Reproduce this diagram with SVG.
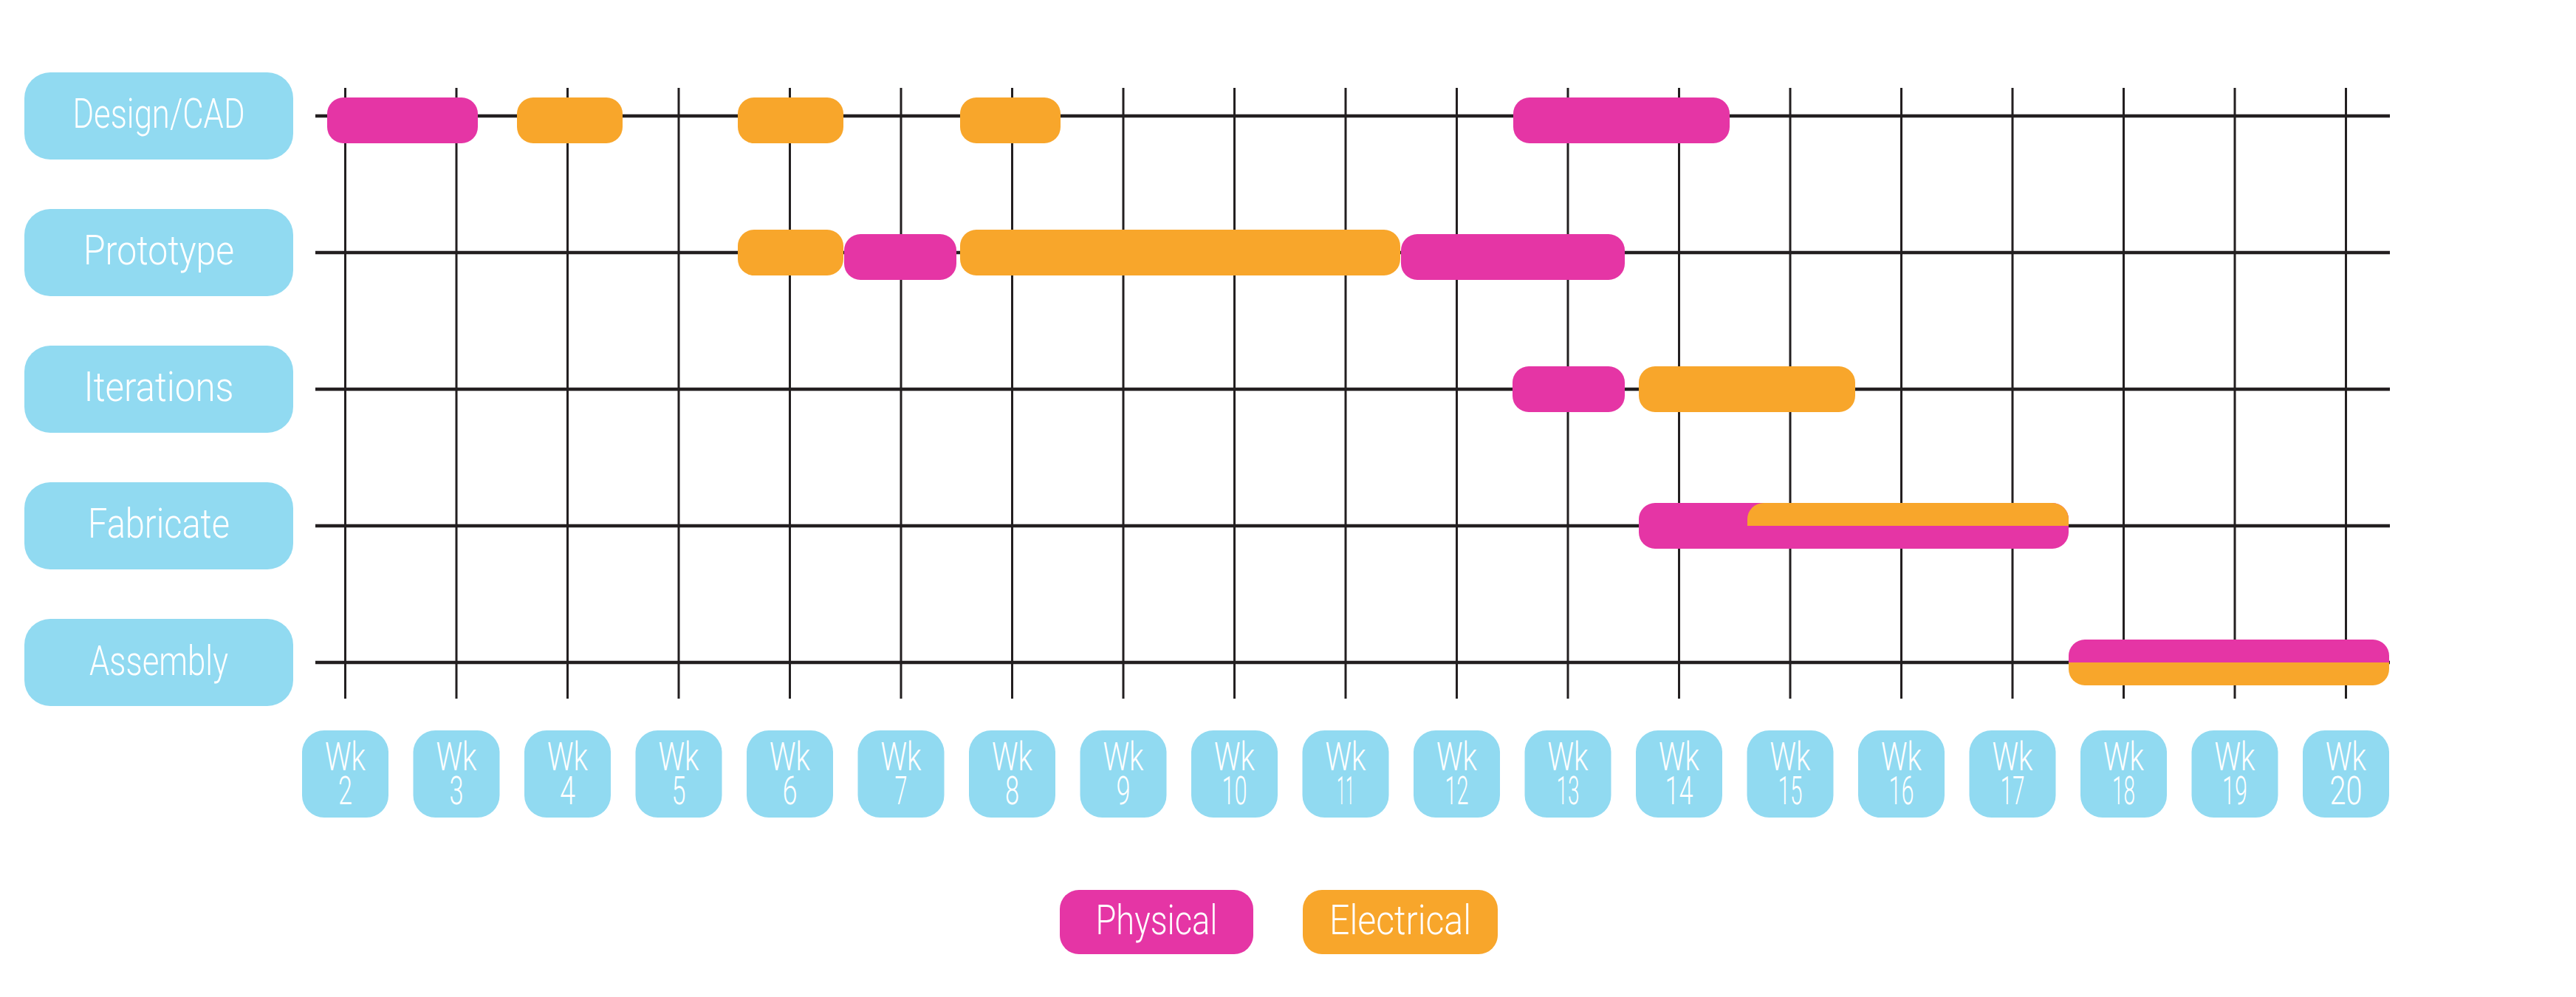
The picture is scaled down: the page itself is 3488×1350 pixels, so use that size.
<svg xmlns="http://www.w3.org/2000/svg" width="3488" height="1350" viewBox="0 0 3488 1350">
<style>
.lbl{fill:#91DAF1}
.p{fill:#E535A5}
.e{fill:#F8A62B}
.t{fill:#FFFFFF;font-family:Roboto,"Liberation Sans",sans-serif;font-weight:300;font-size:55px;text-anchor:middle}
.wt{fill:#FFFFFF;font-family:Roboto,"Liberation Sans",sans-serif;font-weight:300;font-size:54px;text-anchor:middle}
.h{stroke:#231F20;stroke-width:4.5}
.v{stroke:#231F20;stroke-width:3}
</style>
<rect x="0" y="0" width="3488" height="1350" fill="#FFFFFF"/>
<g id="grid">
<line class="v" x1="467.5" y1="119" x2="467.5" y2="946"/>
<line class="v" x1="618" y1="119" x2="618" y2="946"/>
<line class="v" x1="768.5" y1="119" x2="768.5" y2="946"/>
<line class="v" x1="919" y1="119" x2="919" y2="946"/>
<line class="v" x1="1069.5" y1="119" x2="1069.5" y2="946"/>
<line class="v" x1="1220" y1="119" x2="1220" y2="946"/>
<line class="v" x1="1370.5" y1="119" x2="1370.5" y2="946"/>
<line class="v" x1="1521" y1="119" x2="1521" y2="946"/>
<line class="v" x1="1671.5" y1="119" x2="1671.5" y2="946"/>
<line class="v" x1="1822" y1="119" x2="1822" y2="946"/>
<line class="v" x1="1972.5" y1="119" x2="1972.5" y2="946"/>
<line class="v" x1="2123" y1="119" x2="2123" y2="946"/>
<line class="v" x1="2273.5" y1="119" x2="2273.5" y2="946"/>
<line class="v" x1="2424" y1="119" x2="2424" y2="946"/>
<line class="v" x1="2574.5" y1="119" x2="2574.5" y2="946"/>
<line class="v" x1="2725" y1="119" x2="2725" y2="946"/>
<line class="v" x1="2875.5" y1="119" x2="2875.5" y2="946"/>
<line class="v" x1="3026" y1="119" x2="3026" y2="946"/>
<line class="v" x1="3176.5" y1="119" x2="3176.5" y2="946"/>
<line class="h" x1="427" y1="157" x2="3236" y2="157"/>
<line class="h" x1="427" y1="342" x2="3236" y2="342"/>
<line class="h" x1="427" y1="527" x2="3236" y2="527"/>
<line class="h" x1="427" y1="712" x2="3236" y2="712"/>
<line class="h" x1="427" y1="897" x2="3236" y2="897"/>
</g>
<g id="rows">
<g id="row-design">
<rect class="lbl" x="33" y="98" width="364" height="118" rx="35"/>
<text class="t" x="215" y="173" textLength="233" lengthAdjust="spacingAndGlyphs">Design/CAD</text>
</g>
<g id="row-prototype">
<rect class="lbl" x="33" y="283" width="364" height="118" rx="35"/>
<text class="t" x="215" y="358" textLength="204" lengthAdjust="spacingAndGlyphs">Prototype</text>
</g>
<g id="row-iterations">
<rect class="lbl" x="33" y="468" width="364" height="118" rx="35"/>
<text class="t" x="215" y="543" textLength="203" lengthAdjust="spacingAndGlyphs">Iterations</text>
</g>
<g id="row-fabricate">
<rect class="lbl" x="33" y="653" width="364" height="118" rx="35"/>
<text class="t" x="215" y="728" textLength="192" lengthAdjust="spacingAndGlyphs">Fabricate</text>
</g>
<g id="row-assembly">
<rect class="lbl" x="33" y="838" width="364" height="118" rx="35"/>
<text class="t" x="215" y="914" textLength="188" lengthAdjust="spacingAndGlyphs">Assembly</text>
</g>
</g>
<g id="bars">
<rect class="p" x="443" y="132" width="204" height="62" rx="22"/>
<rect class="e" x="700" y="132" width="143" height="62" rx="22"/>
<rect class="e" x="999" y="132" width="143" height="62" rx="22"/>
<rect class="e" x="1300" y="132" width="136" height="62" rx="22"/>
<rect class="p" x="2049" y="132" width="293" height="62" rx="22"/>
<rect class="e" x="999" y="311" width="143" height="62" rx="22"/>
<rect class="p" x="1143" y="317" width="152" height="62" rx="22"/>
<rect class="e" x="1300" y="311" width="596" height="62" rx="22"/>
<rect class="p" x="1897" y="317" width="303" height="62" rx="22"/>
<rect class="p" x="2048" y="496" width="152" height="62" rx="22"/>
<rect class="e" x="2219" y="496" width="293" height="62" rx="22"/>
<rect class="p" x="2219" y="681" width="582" height="62" rx="22"/>
<path class="e" d="M2366 712 L2366 703 A22 22 0 0 1 2388 681 L2779 681 A22 22 0 0 1 2801 703 L2801 712 Z"/>
<path class="p" d="M2801 897 L2801 888 A22 22 0 0 1 2823 866 L3213 866 A22 22 0 0 1 3235 888 L3235 897 Z"/>
<path class="e" d="M2801 897 L2801 906 A22 22 0 0 0 2823 928 L3213 928 A22 22 0 0 0 3235 906 L3235 897 Z"/>
</g>
<g id="weeks">
<g id="wk2"><rect class="lbl" x="409" y="989" width="117" height="118" rx="30"/><text class="wt"><tspan x="467.5" y="1043" textLength="55" lengthAdjust="spacingAndGlyphs">Wk</tspan><tspan x="467.5" y="1089" textLength="19" lengthAdjust="spacingAndGlyphs">2</tspan></text></g>
<g id="wk3"><rect class="lbl" x="559.5" y="989" width="117" height="118" rx="30"/><text class="wt"><tspan x="618" y="1043" textLength="55" lengthAdjust="spacingAndGlyphs">Wk</tspan><tspan x="618" y="1089" textLength="19" lengthAdjust="spacingAndGlyphs">3</tspan></text></g>
<g id="wk4"><rect class="lbl" x="710" y="989" width="117" height="118" rx="30"/><text class="wt"><tspan x="768.5" y="1043" textLength="55" lengthAdjust="spacingAndGlyphs">Wk</tspan><tspan x="768.5" y="1089" textLength="21" lengthAdjust="spacingAndGlyphs">4</tspan></text></g>
<g id="wk5"><rect class="lbl" x="860.5" y="989" width="117" height="118" rx="30"/><text class="wt"><tspan x="919" y="1043" textLength="55" lengthAdjust="spacingAndGlyphs">Wk</tspan><tspan x="919" y="1089" textLength="19" lengthAdjust="spacingAndGlyphs">5</tspan></text></g>
<g id="wk6"><rect class="lbl" x="1011" y="989" width="117" height="118" rx="30"/><text class="wt"><tspan x="1069.5" y="1043" textLength="55" lengthAdjust="spacingAndGlyphs">Wk</tspan><tspan x="1069.5" y="1089" textLength="20" lengthAdjust="spacingAndGlyphs">6</tspan></text></g>
<g id="wk7"><rect class="lbl" x="1161.5" y="989" width="117" height="118" rx="30"/><text class="wt"><tspan x="1220" y="1043" textLength="55" lengthAdjust="spacingAndGlyphs">Wk</tspan><tspan x="1220" y="1089" textLength="17" lengthAdjust="spacingAndGlyphs">7</tspan></text></g>
<g id="wk8"><rect class="lbl" x="1312" y="989" width="117" height="118" rx="30"/><text class="wt"><tspan x="1370.5" y="1043" textLength="55" lengthAdjust="spacingAndGlyphs">Wk</tspan><tspan x="1370.5" y="1089" textLength="19" lengthAdjust="spacingAndGlyphs">8</tspan></text></g>
<g id="wk9"><rect class="lbl" x="1462.5" y="989" width="117" height="118" rx="30"/><text class="wt"><tspan x="1521" y="1043" textLength="55" lengthAdjust="spacingAndGlyphs">Wk</tspan><tspan x="1521" y="1089" textLength="19" lengthAdjust="spacingAndGlyphs">9</tspan></text></g>
<g id="wk10"><rect class="lbl" x="1613" y="989" width="117" height="118" rx="30"/><text class="wt"><tspan x="1671.5" y="1043" textLength="55" lengthAdjust="spacingAndGlyphs">Wk</tspan><tspan x="1671.5" y="1089" textLength="34" lengthAdjust="spacingAndGlyphs">10</tspan></text></g>
<g id="wk11"><rect class="lbl" x="1763.5" y="989" width="117" height="118" rx="30"/><text class="wt"><tspan x="1822" y="1043" textLength="55" lengthAdjust="spacingAndGlyphs">Wk</tspan><tspan x="1822" y="1089" textLength="24" lengthAdjust="spacingAndGlyphs">11</tspan></text></g>
<g id="wk12"><rect class="lbl" x="1914" y="989" width="117" height="118" rx="30"/><text class="wt"><tspan x="1972.5" y="1043" textLength="55" lengthAdjust="spacingAndGlyphs">Wk</tspan><tspan x="1972.5" y="1089" textLength="32" lengthAdjust="spacingAndGlyphs">12</tspan></text></g>
<g id="wk13"><rect class="lbl" x="2064.5" y="989" width="117" height="118" rx="30"/><text class="wt"><tspan x="2123" y="1043" textLength="55" lengthAdjust="spacingAndGlyphs">Wk</tspan><tspan x="2123" y="1089" textLength="31" lengthAdjust="spacingAndGlyphs">13</tspan></text></g>
<g id="wk14"><rect class="lbl" x="2215" y="989" width="117" height="118" rx="30"/><text class="wt"><tspan x="2273.5" y="1043" textLength="55" lengthAdjust="spacingAndGlyphs">Wk</tspan><tspan x="2273.5" y="1089" textLength="38" lengthAdjust="spacingAndGlyphs">14</tspan></text></g>
<g id="wk15"><rect class="lbl" x="2365.5" y="989" width="117" height="118" rx="30"/><text class="wt"><tspan x="2424" y="1043" textLength="55" lengthAdjust="spacingAndGlyphs">Wk</tspan><tspan x="2424" y="1089" textLength="33" lengthAdjust="spacingAndGlyphs">15</tspan></text></g>
<g id="wk16"><rect class="lbl" x="2516" y="989" width="117" height="118" rx="30"/><text class="wt"><tspan x="2574.5" y="1043" textLength="55" lengthAdjust="spacingAndGlyphs">Wk</tspan><tspan x="2574.5" y="1089" textLength="34" lengthAdjust="spacingAndGlyphs">16</tspan></text></g>
<g id="wk17"><rect class="lbl" x="2666.5" y="989" width="117" height="118" rx="30"/><text class="wt"><tspan x="2725" y="1043" textLength="55" lengthAdjust="spacingAndGlyphs">Wk</tspan><tspan x="2725" y="1089" textLength="33" lengthAdjust="spacingAndGlyphs">17</tspan></text></g>
<g id="wk18"><rect class="lbl" x="2817" y="989" width="117" height="118" rx="30"/><text class="wt"><tspan x="2875.5" y="1043" textLength="55" lengthAdjust="spacingAndGlyphs">Wk</tspan><tspan x="2875.5" y="1089" textLength="31" lengthAdjust="spacingAndGlyphs">18</tspan></text></g>
<g id="wk19"><rect class="lbl" x="2967.5" y="989" width="117" height="118" rx="30"/><text class="wt"><tspan x="3026" y="1043" textLength="55" lengthAdjust="spacingAndGlyphs">Wk</tspan><tspan x="3026" y="1089" textLength="34" lengthAdjust="spacingAndGlyphs">19</tspan></text></g>
<g id="wk20"><rect class="lbl" x="3118" y="989" width="117" height="118" rx="30"/><text class="wt"><tspan x="3176.5" y="1043" textLength="55" lengthAdjust="spacingAndGlyphs">Wk</tspan><tspan x="3176.5" y="1089" textLength="44" lengthAdjust="spacingAndGlyphs">20</tspan></text></g>
</g>
<g id="legend">
<g id="legend-physical"><rect class="p" x="1435" y="1205" width="262" height="87" rx="26"/><text class="t" x="1566" y="1265" textLength="165" lengthAdjust="spacingAndGlyphs">Physical</text></g>
<g id="legend-electrical"><rect class="e" x="1764" y="1205" width="264" height="87" rx="26"/><text class="t" x="1896" y="1265" textLength="192" lengthAdjust="spacingAndGlyphs">Electrical</text></g>
</g>
</svg>
